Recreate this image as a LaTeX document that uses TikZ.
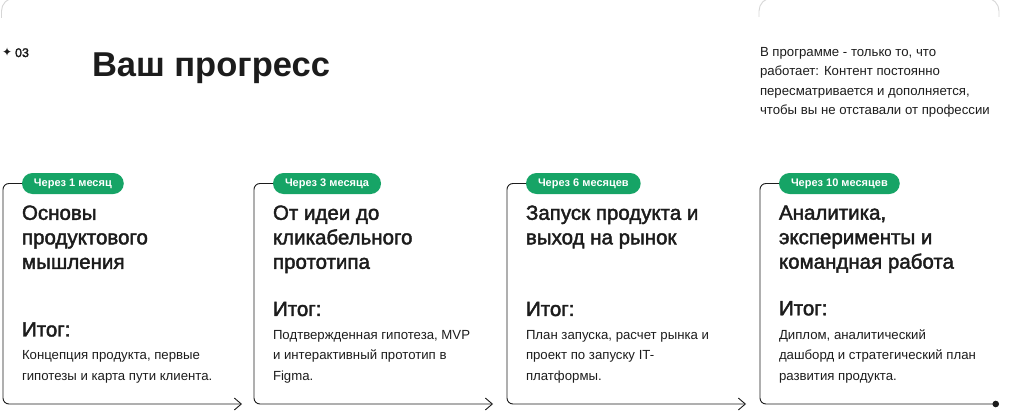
\documentclass[tikz,border=0pt]{standalone}
\usepackage{fontspec}
\setmainfont{Liberation Sans}
\newfontfamily\midfont{Liberation Sans}[FakeBold=2]
\newfontfamily\starfont{DejaVu Sans}
\usetikzlibrary{arrows.meta}
\usetikzlibrary{positioning}
\definecolor{badgegreen}{RGB}{22,164,102}
\definecolor{ink}{RGB}{28,28,28}
\definecolor{pale}{RGB}{214,214,214}

\begin{document}
\begin{tikzpicture}[x=1pt,y=-1pt,
                every node/.style={inner sep=0pt,outer sep=0pt,text=ink},
                month/.style={fill=badgegreen,text=white,rounded corners=10.5pt,
                    minimum height=21pt,inner xsep=12pt,anchor=west,
                    font=\bfseries\fontsize{11}{12}\selectfont},
                stage/.style={anchor=north west,align=left,
                    font=\midfont\fontsize{20.5}{24.5}\selectfont},
                result/.style={anchor=south west,align=left,
                    font=\fontsize{13.2}{20.5}\selectfont},
                outline/.style={draw=ink,line width=0.9pt,rounded corners=6pt},
                goon/.style={-{Straight Barb[length=7pt,width=12pt]}},
                stop/.style={-{Circle[length=6.5pt]}},
                pale frame/.style={draw=pale,line width=0.9pt,rounded corners=13pt}
            ]
            \useasboundingbox (0,0) rectangle (1021,412);
            % frames of the neighbouring blocks
            \draw[pale frame] (1.5,18) -- (1.5,-2) -- (60,-2);
            \draw[pale frame] (759,17) -- (759,-2) -- (999,-2) -- (999,17);
            % heading
            \node[anchor=base west] (num) at (2,57)
                {{\starfont\fontsize{12}{12}\selectfont ✦}\hspace{3pt}\midfont\fontsize{12.5}{13}\selectfont 03};
            \node[anchor=base west,font=\bfseries\fontsize{34.5}{36}\selectfont] (title) at (92,77)
                {Ваш прогресс};
            \node[anchor=north west,align=left,font=\fontsize{13.2}{19.6}\selectfont] (about) at (760,47)
                {В программе - только то, что\\работает: Контент постоянно\\пересматривается и дополняется,\\чтобы вы не отставали от профессии};
            % stages
            \foreach \i/\x/\when/\what/\res/\tip in {
                1/3/{Через 1 месяц}/{Основы\\продуктового\\мышления}/{Концепция продукта, первые\\гипотезы и карта пути клиента.}/goon,
                2/254/{Через 3 месяца}/{От идеи до\\кликабельного\\прототипа}/{Подтвержденная гипотеза, MVP\\и интерактивный прототип в\\Figma.}/goon,
                3/507/{Через 6 месяцев}/{Запуск продукта и\\выход на рынок}/{План запуска, расчет рынка и\\проект по запуску IT-\\платформы.}/goon,
                4/760/{Через 10 месяцев}/{Аналитика,\\эксперименты и\\командная работа}/{Диплом, аналитический\\дашборд и стратегический план\\развития продукта.}/stop} {
                \node[month] (badge\i) at (\x+19,183.5) {\when};
                \node[stage] (stage\i) at (\x+19,205.5) {\what};
                \node[result] (res\i) at (\x+19,383) {\res};
                \node[above=14pt of res\i.north west,anchor=south west,
                    font=\midfont\fontsize{20.5}{22}\selectfont] (sum\i) {Итог:};
                \coordinate (end\i) at (\x+239,404);
                \draw[outline,\tip] (badge\i.west) -- (\x,183.5) -- (\x,404) -- (end\i);
            }
        \end{tikzpicture}
\end{document}
